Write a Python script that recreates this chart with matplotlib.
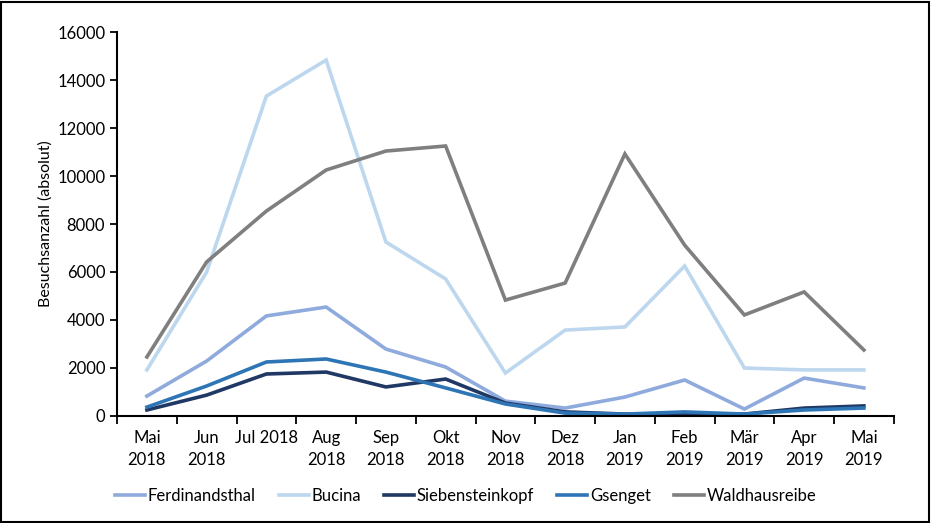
import matplotlib.pyplot as plt
import numpy as np

plt.rcParams['font.family'] = ['Lato', 'DejaVu Sans']

# Months (x categories)
months = ["Mai\n2018", "Jun\n2018", "Jul 2018", "Aug\n2018", "Sep\n2018", "Okt\n2018",
          "Nov\n2018", "Dez\n2018", "Jan\n2019", "Feb\n2019", "Mär\n2019", "Apr\n2019", "Mai\n2019"]

# Visits per site (absolute)
ferdinandsthal = [830, 2290, 4170, 4540, 2790, 2040, 620, 330, 790, 1500, 290, 1580, 1170]
bucina = [1920, 6000, 13330, 14830, 7250, 5710, 1790, 3580, 3710, 6250, 2000, 1920, 1920]
siebensteinkopf = [250, 870, 1750, 1830, 1210, 1540, 540, 170, 80, 80, 80, 330, 420]
gsenget = [370, 1250, 2250, 2375, 1830, 1170, 500, 120, 80, 170, 80, 250, 330]
waldhausreibe = [2460, 6420, 8540, 10250, 11040, 11250, 4830, 5540, 10920, 7120, 4210, 5170, 2750]

series = [
    ("Ferdinandsthal", ferdinandsthal, "#8FAADC"),
    ("Bucina", bucina, "#BDD7EE"),
    ("Siebensteinkopf", siebensteinkopf, "#203864"),
    ("Gsenget", gsenget, "#2E75B6"),
    ("Waldhausreibe", waldhausreibe, "#7F7F7F"),
]

fig = plt.figure(figsize=(9.31, 5.23), dpi=100)
ax = fig.add_axes([0.1257, 0.2046, 0.8343, 0.7342])

x = np.arange(len(months))
for name, vals, col in series:
    ax.plot(x, vals, color=col, lw=2.6, label=name, solid_joinstyle='miter')

ax.set_xlim(-0.5, len(months) - 0.5)
ax.set_ylim(0, 16000)
ax.set_yticks(range(0, 16001, 2000))
ax.tick_params(axis='y', labelsize=12, length=5, width=1.3, direction='out')

ax.set_xticks(x)
ax.set_xticklabels(months, fontsize=12, linespacing=1.45)
ax.tick_params(axis='x', which='major', length=0, pad=10)
ax.set_xticks(np.arange(-0.5, len(months), 1.0), minor=True)
ax.tick_params(axis='x', which='minor', length=6, width=1.3, direction='out')

for s in ['top', 'right']:
    ax.spines[s].set_visible(False)
for s in ['left', 'bottom']:
    ax.spines[s].set_linewidth(1.5)

ax.set_ylabel("Besuchsanzahl (absolut)", fontsize=11.5, labelpad=3)

ax.legend(loc='center', bbox_to_anchor=(0.5, 0.052), bbox_transform=fig.transFigure,
          ncol=5, frameon=False, fontsize=12, handlelength=1.8, handletextpad=0.15,
          columnspacing=1.4)

# Black frame around the whole figure
fig.patches.append(plt.Rectangle((0.001, 0.002), 0.997, 0.995, transform=fig.transFigure,
                                 fill=False, edgecolor='black', lw=1.5))

fig.savefig("out.png", dpi=100)
